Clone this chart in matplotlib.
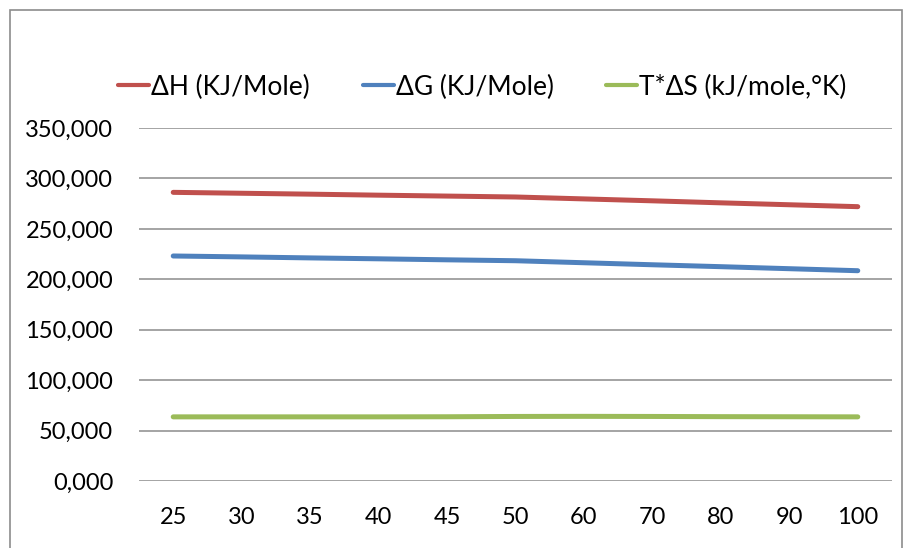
import matplotlib
matplotlib.use("Agg")
import matplotlib.pyplot as plt
from matplotlib.patches import Rectangle
from matplotlib.ticker import FuncFormatter

# Temperatures (°C) shown as categories
temperatures = ["25", "30", "35", "40", "45", "50", "60", "70", "80", "90", "100"]

# Thermodynamic quantities, kJ/mole
delta_h = [286.2, 285.3, 284.4, 283.4, 282.5, 281.6, 279.7, 277.8, 275.8, 273.9, 272.0]
delta_g = [223.1, 222.2, 221.2, 220.3, 219.3, 218.4, 216.4, 214.4, 212.5, 210.5, 208.5]
t_delta_s = [63.6, 63.6, 63.6, 63.6, 63.7, 64.0, 64.1, 64.0, 63.8, 63.7, 63.6]

series_labels = ["ΔH (KJ/Mole)", "ΔG (KJ/Mole)", "T*ΔS (kJ/mole,°K)"]
y_ticks = [0, 50, 100, 150, 200, 250, 300, 350]

colors = ["#C0504D", "#4F81BD", "#9BBB59"]
font = "Lato"
tick_size = 17
legend_size = 19
W, H = 904, 548

fig = plt.figure(figsize=(W / 100, H / 100), dpi=100)
fig.patch.set_facecolor("white")

# outer chart border
fig.add_artist(Rectangle((10 / W, -0.05), 892 / W, 1.05 - 10 / H,
                         transform=fig.transFigure, fill=False,
                         edgecolor="#8C8C8C", linewidth=1.2))

ax = fig.add_axes([139 / W, (H - 481) / H, 753 / W, 353 / H])
x = list(range(len(temperatures)))
for vals, lab, col in zip([delta_h, delta_g, t_delta_s], series_labels, colors):
    ax.plot(x, vals, color=col, linewidth=3.6, solid_capstyle="round",
            solid_joinstyle="round", label=lab, zorder=3)

ax.set_xlim(-0.5, len(temperatures) - 0.5)
ax.set_ylim(0, 350)
ax.set_yticks(y_ticks)
ax.yaxis.set_major_formatter(FuncFormatter(lambda v, p: f"{v:.3f}".replace(".", ",")))
ax.set_xticks(x)
ax.set_xticklabels(temperatures)
ax.grid(axis="y", color="#8C8C8C", linewidth=1.1)
ax.set_axisbelow(True)
for s in ["top", "right", "left", "bottom"]:
    ax.spines[s].set_visible(False)
ax.tick_params(axis="both", length=0, labelsize=tick_size, colors="black")
ax.tick_params(axis="y", pad=18.5)
ax.tick_params(axis="x", pad=19)
for t in ax.get_xticklabels() + ax.get_yticklabels():
    t.set_fontfamily(font)

leg = fig.legend(loc="center", bbox_to_anchor=(482.5 / W, 1 - 87 / H), ncol=3,
                 frameon=False, handlelength=1.17, handletextpad=0.08,
                 columnspacing=2.0, prop={"family": font, "size": legend_size})
for line in leg.get_lines():
    line.set_linewidth(3.0)
    line.set_solid_capstyle("round")

fig.savefig("out.png", dpi=100)
